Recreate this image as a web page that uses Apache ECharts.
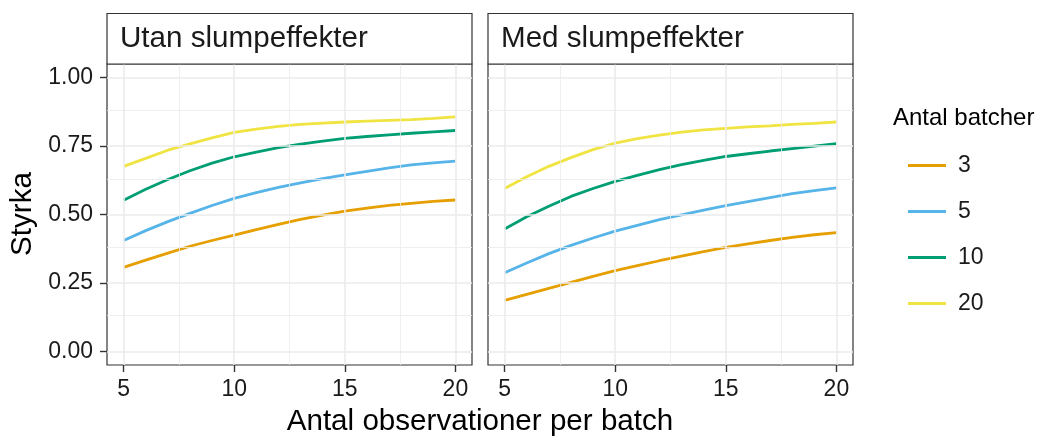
<!DOCTYPE html>
<html>
<head>
<meta charset="utf-8">
<script src="https://cdn.jsdelivr.net/npm/echarts@6/dist/echarts.min.js"></script>
<style>html,body{margin:0;padding:0;background:#fff}#c{width:1044px;height:437px}</style>
</head>
<body>
<div id="c"></div>
<script>
// ---- data ----
var panels = ['Utan slumpeffekter', 'Med slumpeffekter'];
var batchLabels = ['3', '5', '10', '20'];
var xs = [5, 6, 7, 8, 9, 10, 11, 12, 13, 14, 15, 16, 17, 18, 19, 20];
// Utan slumpeffekter
var utan3  = [0.307, 0.333, 0.359, 0.384, 0.405, 0.425, 0.445, 0.464, 0.482, 0.498, 0.512, 0.523, 0.533, 0.541, 0.548, 0.553];
var utan5  = [0.405, 0.441, 0.474, 0.504, 0.533, 0.559, 0.580, 0.599, 0.616, 0.631, 0.645, 0.658, 0.670, 0.681, 0.689, 0.695];
var utan10 = [0.552, 0.592, 0.628, 0.660, 0.688, 0.711, 0.728, 0.744, 0.757, 0.768, 0.778, 0.785, 0.791, 0.797, 0.802, 0.807];
var utan20 = [0.676, 0.705, 0.735, 0.758, 0.780, 0.800, 0.812, 0.822, 0.829, 0.834, 0.838, 0.841, 0.844, 0.847, 0.851, 0.857];
// Med slumpeffekter
var med3  = [0.186, 0.208, 0.230, 0.252, 0.274, 0.295, 0.313, 0.331, 0.348, 0.364, 0.380, 0.393, 0.405, 0.416, 0.426, 0.434];
var med5  = [0.287, 0.323, 0.357, 0.387, 0.414, 0.439, 0.460, 0.481, 0.499, 0.516, 0.532, 0.547, 0.562, 0.576, 0.587, 0.597];
var med10 = [0.447, 0.492, 0.530, 0.566, 0.595, 0.621, 0.643, 0.664, 0.682, 0.698, 0.712, 0.722, 0.732, 0.741, 0.750, 0.759];
var med20 = [0.595, 0.638, 0.676, 0.708, 0.737, 0.761, 0.777, 0.790, 0.801, 0.809, 0.815, 0.820, 0.824, 0.829, 0.833, 0.838];
// ticks
var xTicks = [5, 10, 15, 20];
var xMinor = [7.5, 12.5, 17.5];
var yTicks = [0, 0.25, 0.5, 0.75, 1];
var yMinor = [0.125, 0.375, 0.625, 0.875];
var xTitle = 'Antal observationer per batch';
var yTitle = 'Styrka';
var legendTitle = 'Antal batcher';

var colors = ['#E69F00', '#56B4E9', '#009E73', '#F0E442'];
var panelData = [[utan3, utan5, utan10, utan20], [med3, med5, med10, med20]];

var FONT = '"Liberation Sans", Arial, Helvetica, sans-serif';
var TXT = '#1a1a1a';
var gridLeft = [107, 488], gridTop = 64, gridW = 365, gridH = 301;

function pairs(x, y) { return x.map(function (v, i) { return [v, y[i]]; }); }

var grids = [], xAxes = [], yAxes = [], series = [], graphics = [];
for (var p = 0; p < 2; p++) {
  grids.push({ left: gridLeft[p], top: gridTop, width: gridW, height: gridH, show: true,
    borderColor: '#333333', borderWidth: 1.2, backgroundColor: '#fff', containLabel: false });
  xAxes.push({ type: 'value', gridIndex: p, min: 4.25, max: 20.75, position: 'bottom',
    axisLine: { show: false, onZero: false }, splitLine: { show: false },
    axisTick: { show: true, inside: false, customValues: xTicks, length: 7, lineStyle: { color: '#333', width: 1.4 } },
    axisLabel: { customValues: xTicks, fontSize: 23, color: TXT, fontFamily: FONT, margin: 13 } });
  yAxes.push({ type: 'value', gridIndex: p, min: -0.05, max: 1.05, position: 'left',
    axisLine: { show: false, onZero: false }, splitLine: { show: false },
    axisTick: { show: p === 0, inside: false, customValues: yTicks, length: 7, lineStyle: { color: '#333', width: 1.4 } },
    axisLabel: { show: p === 0, customValues: yTicks, fontSize: 23, color: TXT, fontFamily: FONT, margin: 14,
      formatter: function (v) { return v.toFixed(2); } } });
  var ml = [];
  xMinor.forEach(function (v) { ml.push({ xAxis: v, lineStyle: { width: 0.8 } }); });
  yMinor.forEach(function (v) { ml.push({ yAxis: v, lineStyle: { width: 0.8 } }); });
  xTicks.forEach(function (v) { ml.push({ xAxis: v, lineStyle: { width: 1.6 } }); });
  yTicks.forEach(function (v) { ml.push({ yAxis: v, lineStyle: { width: 1.6 } }); });
  series.push({ type: 'line', xAxisIndex: p, yAxisIndex: p, data: [], z: 1, silent: true,
    markLine: { silent: true, symbol: ['none', 'none'], label: { show: false },
      lineStyle: { color: '#EBEBEB', type: 'solid' }, data: ml } });
  for (var s = 0; s < 4; s++) {
    series.push({ type: 'line', name: batchLabels[s], xAxisIndex: p, yAxisIndex: p, z: 3,
      data: pairs(xs, panelData[p][s]), symbol: 'none', smooth: false,
      lineStyle: { color: colors[s], width: 2.8 }, itemStyle: { color: colors[s] } });
  }
  graphics.push({ type: 'rect', shape: { x: gridLeft[p], y: 13.5, width: gridW, height: 50.5 },
    style: { fill: '#fff', stroke: '#333333', lineWidth: 1.2 }, z: 10 });
  graphics.push({ type: 'text', x: gridLeft[p] + 13, y: 39, z: 11,
    style: { text: panels[p], font: '29.6px ' + FONT, fill: TXT, textAlign: 'left', textVerticalAlign: 'middle' } });
}
graphics.push({ type: 'text', x: 480, y: 422, style: { text: xTitle, font: '29.6px ' + FONT, fill: '#000', textAlign: 'center', textVerticalAlign: 'middle' } });
graphics.push({ type: 'text', x: 23, y: 214, rotation: Math.PI / 2, style: { text: yTitle, font: '29.6px ' + FONT, fill: '#000', textAlign: 'center', textVerticalAlign: 'middle' } });
graphics.push({ type: 'text', x: 893, y: 118, style: { text: legendTitle, font: '24px ' + FONT, fill: '#000', textAlign: 'left', textVerticalAlign: 'middle' } });

var chart = echarts.init(document.getElementById('c'), null, { renderer: 'canvas' });
chart.setOption({
  animation: false,
  backgroundColor: '#fff',
  grid: grids, xAxis: xAxes, yAxis: yAxes, series: series,
  legend: { data: batchLabels, orient: 'vertical', left: 903, top: 149, icon: 'rect',
    itemWidth: 38, itemHeight: 3, itemGap: 23, selectedMode: false,
    textStyle: { fontSize: 23, color: TXT, fontFamily: FONT, padding: [0, 0, 0, 7] } },
  graphic: graphics
});
</script>
</body>
</html>
